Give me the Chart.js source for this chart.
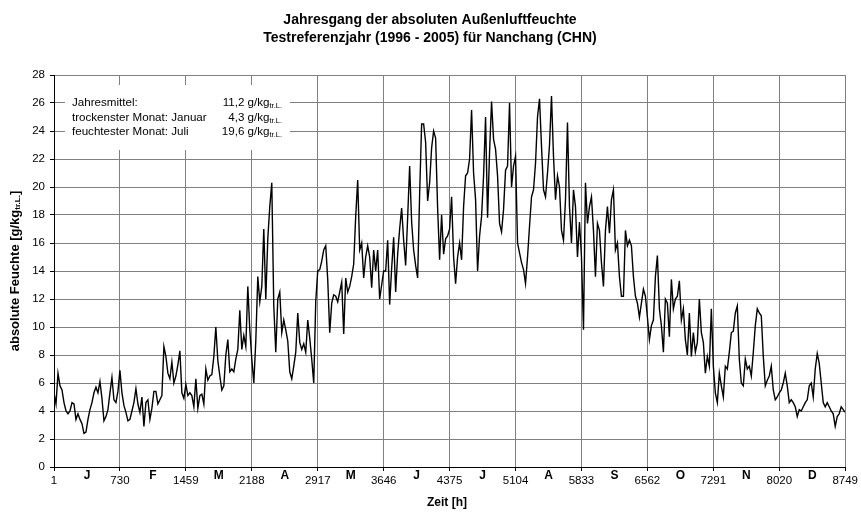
<!DOCTYPE html>
<html>
<head>
<meta charset="utf-8">
<script src="https://cdn.jsdelivr.net/npm/chart.js@4/dist/chart.umd.min.js"></script>
<style>
  html, body { margin: 0; padding: 0; background: #fff; }
  #wrap { width: 861px; height: 512px; position: relative; }
</style>
</head>
<body>
<div id="wrap"><canvas id="c" width="861" height="512"></canvas></div>
<script>
// ---- data ----
const titleLines = ['Jahresgang der absoluten Außenluftfeuchte', 'Testreferenzjahr (1996 - 2005) für Nanchang (CHN)'];
const monthLetters = ['J','F','M','A','M','J','J','A','S','O','N','D'];
const xTickHours = [1,730,1459,2188,2917,3646,4375,5104,5833,6562,7291,8020,8749];
const firstHour = 1;
const lastHour = 8749;
const infoLabels = ['Jahresmittel:', 'trockenster Monat: Januar', 'feuchtester Monat: Juli'];
const infoValues = ['11,2 g/kg', '4,3 g/kg', '19,6 g/kg'];
const unitSub = 'tr.L.';
// absolute humidity [g/kg] sampled evenly over the year (every ~22 h)
const humidity = [
5.3,4.5,6.7,5.8,5.5,4.6,4.0,3.8,4.0,4.6,4.5,3.4,3.8,3.4,3.1,2.4,2.5,3.4,4.1,4.6,
5.3,5.7,5.3,6.1,4.9,3.3,3.6,4.1,5.3,6.4,4.8,4.6,5.4,6.9,5.3,4.4,3.9,3.3,3.4,4.0,
4.6,5.6,4.5,3.9,5.0,2.9,4.6,4.8,3.4,4.2,5.4,5.4,4.5,4.8,5.1,8.6,7.9,6.7,6.3,7.5,
6.0,6.5,7.3,8.3,5.3,4.9,5.9,5.1,5.3,5.1,4.3,6.3,4.2,5.1,5.2,4.5,7.0,6.2,6.5,6.6,
7.9,10.0,7.6,6.5,5.5,5.8,8.0,9.1,6.8,7.0,6.8,7.7,8.4,11.2,8.4,9.4,8.6,12.9,9.8,7.7,
6.0,9.0,13.6,11.8,12.9,17.0,12.0,16.3,18.6,20.3,11.5,8.2,12.0,12.5,9.6,10.5,9.8,9.0,6.8,6.3,
7.2,8.2,11.0,8.9,8.4,8.8,8.2,10.5,9.2,7.7,6.0,11.8,14.0,14.1,14.7,15.5,15.8,13.4,9.6,11.7,
12.3,12.2,11.8,12.5,13.2,9.5,13.5,12.5,12.9,13.6,14.5,17.9,20.5,15.5,16.0,13.5,15.0,15.8,15.0,12.8,
15.5,14.0,15.5,12.0,13.0,14.0,14.0,16.2,11.6,14.2,16.4,12.5,15.2,17.0,18.5,16.2,14.4,17.8,21.5,17.5,
15.5,14.4,13.5,19.5,24.5,24.5,23.2,19.0,20.3,22.8,24.0,23.5,18.5,14.8,18.0,15.2,16.3,16.5,17.0,19.3,
15.0,13.1,15.0,16.0,14.8,18.6,20.8,21.0,22.0,25.5,21.0,19.1,14.0,16.5,17.9,20.8,25.0,17.8,22.5,26.1,
23.4,22.7,20.8,17.4,16.8,18.4,21.2,21.5,26.0,20.0,21.5,22.2,16.0,15.3,14.6,14.1,13.1,15.0,17.2,19.3,
19.8,21.7,25.0,26.3,22.9,19.8,19.3,21.0,23.0,26.5,22.2,19.1,20.8,20.0,16.9,16.2,19.1,24.6,18.6,16.0,
19.8,18.6,15.0,17.5,15.0,9.8,20.3,17.4,18.6,19.3,16.9,13.6,17.4,16.9,14.6,12.9,16.9,18.6,16.7,19.1,
19.8,15.5,16.0,13.6,12.2,12.2,16.9,15.8,16.2,15.8,13.6,12.2,11.7,10.7,11.7,12.7,12.2,10.7,9.1,10.1,
10.5,13.6,15.1,11.3,10.1,8.2,12.0,11.7,9.3,13.4,11.3,12.0,12.2,13.3,10.5,11.3,9.1,8.0,11.0,7.9,
9.6,8.2,8.9,12.0,9.6,8.9,6.7,7.9,7.2,11.3,7.2,5.3,4.6,6.7,5.8,5.0,7.2,7.0,8.2,9.6,
9.7,11.0,11.5,7.7,6.0,5.8,7.7,7.0,7.2,6.5,8.2,10.1,11.3,11.0,10.8,7.9,5.8,6.2,6.5,7.2,
5.5,4.8,5.0,5.3,5.5,6.0,6.7,5.8,4.6,4.8,4.6,4.3,3.6,4.1,4.0,4.3,4.6,4.8,5.8,6.0,
5.0,7.0,8.1,7.4,6.0,4.6,4.3,4.6,4.3,4.0,3.8,2.9,3.6,3.8,4.3,4.1,3.9
];

const FONT = '"Liberation Sans", Arial, sans-serif';
const points = humidity.map((v, i) => ({
  x: firstHour + i * (lastHour - firstHour) / (humidity.length - 1),
  y: v
}));

function drawSubText(ctx, parts, x, y, align) {
  let total = 0;
  parts.forEach(p => { ctx.font = p.font; total += ctx.measureText(p.t).width; });
  let cx = align === 'right' ? x - total : (align === 'center' ? x - total / 2 : x);
  parts.forEach(p => {
    ctx.font = p.font;
    ctx.textAlign = 'left';
    ctx.fillText(p.t, cx, y + (p.dy || 0));
    cx += ctx.measureText(p.t).width;
  });
}

const decor = {
  id: 'decor',
  beforeDatasetsDraw(chart) {
    const ctx = chart.ctx;
    ctx.save();
    ctx.fillStyle = '#fff';
    ctx.fillRect(65, 85, 225, 65);
    ctx.restore();
  },
  afterDraw(chart) {
    const ctx = chart.ctx;
    const xs = chart.scales.x;
    ctx.save();
    ctx.fillStyle = '#000';
    ctx.textBaseline = 'middle';
    // title
    ctx.font = 'bold 14px ' + FONT;
    ctx.textAlign = 'center';
    ctx.fillText(titleLines[0], 430, 20);
    ctx.fillText(titleLines[1], 430, 38);
    // month letters
    ctx.font = 'bold 12px ' + FONT;
    for (let k = 0; k < monthLetters.length; k++) {
      const mid = (xTickHours[k] + xTickHours[k + 1]) / 2;
      ctx.fillText(monthLetters[k], xs.getPixelForValue(mid), 476);
    }
    // x-axis title
    ctx.font = 'bold 12px ' + FONT;
    ctx.fillText('Zeit [h]', 447, 503);
    // y-axis title
    ctx.save();
    ctx.translate(15, (chart.chartArea.top + chart.chartArea.bottom) / 2);
    ctx.rotate(-Math.PI / 2);
    drawSubText(ctx, [
      {t: 'absolute Feuchte [g/kg', font: 'bold 13px ' + FONT},
      {t: unitSub, font: 'bold 8px ' + FONT, dy: 3},
      {t: ']', font: 'bold 13px ' + FONT}
    ], 0, 0, 'center');
    ctx.restore();
    // info box
    const rows = [103, 117.5, 132];
    for (let r = 0; r < infoLabels.length; r++) {
      ctx.font = '11.6px ' + FONT;
      ctx.textAlign = 'left';
      ctx.fillText(infoLabels[r], 72, rows[r]);
      drawSubText(ctx, [
        {t: infoValues[r], font: '11.6px ' + FONT},
        {t: unitSub, font: '7.5px ' + FONT, dy: 3}
      ], 282, rows[r], 'right');
    }
    ctx.restore();
  }
};

new Chart(document.getElementById('c'), {
  type: 'line',
  data: {
    datasets: [{
      data: points,
      borderColor: '#000',
      borderWidth: 1.4,
      pointRadius: 0,
      tension: 0,
      fill: false
    }]
  },
  options: {
    responsive: false,
    animation: false,
    devicePixelRatio: 1,
    layout: { padding: { top: 75, right: 15, left: 0, bottom: 0 } },
    plugins: { legend: { display: false }, title: { display: false }, tooltip: { enabled: false } },
    scales: {
      x: {
        type: 'linear',
        min: firstHour,
        max: lastHour,
        afterBuildTicks: (s) => { s.ticks = xTickHours.map(v => ({ value: v })); },
        afterFit: (s) => { s.height = 45; },
        ticks: {
          autoSkip: false,
          maxRotation: 0,
          padding: 3,
          color: '#000',
          font: { family: FONT, size: 11.5 },
          callback: (v) => String(v)
        },
        grid: { color: '#808080', lineWidth: 1, tickLength: 4, tickColor: '#000' },
        border: { color: '#000', width: 1 }
      },
      y: {
        min: 0,
        max: 28,
        afterFit: (s) => { s.width = 54; },
        ticks: {
          stepSize: 2,
          padding: 5,
          color: '#000',
          font: { family: FONT, size: 11.5 }
        },
        grid: { color: '#808080', lineWidth: 1, tickLength: 4, tickColor: '#000' },
        border: { color: '#000', width: 1 }
      }
    }
  },
  plugins: [decor]
});
</script>
</body>
</html>
